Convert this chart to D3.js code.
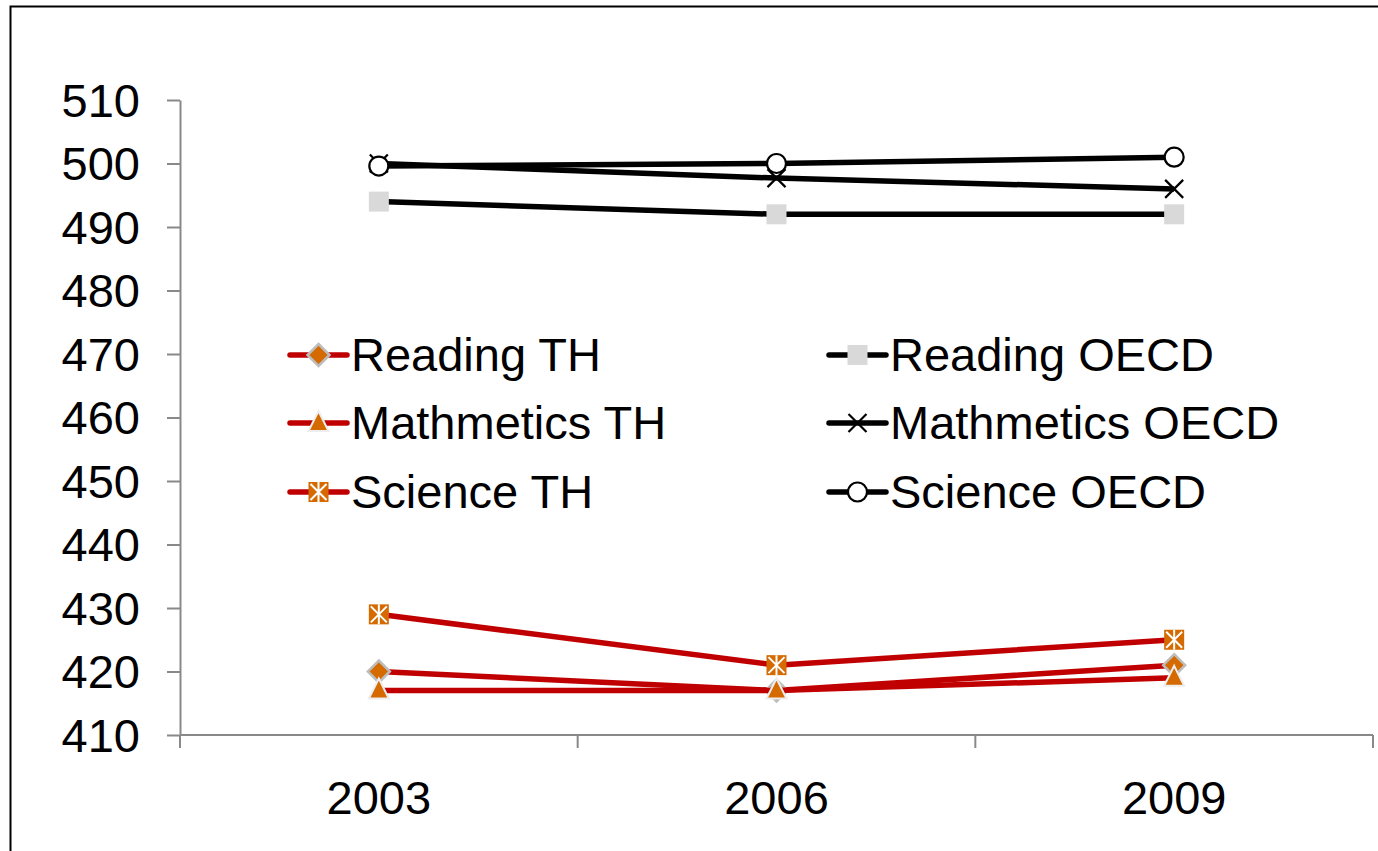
<!DOCTYPE html>
<html>
<head>
<meta charset="utf-8">
<script src="https://cdn.jsdelivr.net/npm/d3@7"></script>
<style>
  html, body { margin: 0; padding: 0; background: #fff; }
  svg { display: block; }
  text { font-family: "Liberation Sans", Arial, sans-serif; fill: #000; }
</style>
</head>
<body>
<svg id="chart" width="1378" height="851"></svg>
<script>
// PISA mean scores, Thailand vs OECD average
const years = ["2003", "2006", "2009"];
const yTicks = [410, 420, 430, 440, 450, 460, 470, 480, 490, 500, 510];

const readingTH = [420, 417, 421];
const mathTH = [417, 417, 419];
const scienceTH = [429, 421, 425];
const readingOECD = [494, 492, 492];
const mathOECD = [500, 497.7, 496];
const scienceOECD = [499.6, 500, 501];

const seriesNames = ["Reading TH", "Mathmetics TH", "Science TH",
                     "Reading OECD", "Mathmetics OECD", "Science OECD"];
const seriesValues = [readingTH, mathTH, scienceTH, readingOECD, mathOECD, scienceOECD];
const seriesMarkers = ["diamond", "triangle", "star", "square", "cross", "circle"];
const seriesColors = ["#c00000", "#c00000", "#c00000", "#000000", "#000000", "#000000"];

const series = seriesNames.map((name, i) => ({
  name, values: seriesValues[i], marker: seriesMarkers[i], color: seriesColors[i]
}));

const svg = d3.select("#chart");

// chart frame, partly outside the visible page on the right and bottom
svg.append("rect")
  .attr("x", 10.5).attr("y", 6.5).attr("width", 1400).attr("height", 900)
  .attr("fill", "none").attr("stroke", "#000").attr("stroke-width", 2);

const plot = { left: 180, right: 1373, top: 100, bottom: 735 };

const x = d3.scaleBand().domain(years).range([plot.left, plot.right]).padding(0);
const y = d3.scaleLinear().domain([410, 510]).range([plot.bottom, plot.top]);

const axisColor = "#898989";

// y axis
const yAxis = svg.append("g")
  .attr("transform", `translate(${plot.left},0)`)
  .call(d3.axisLeft(y).tickValues(yTicks).tickSize(13).tickSizeOuter(0).tickPadding(27).tickFormat(d3.format("d")));
yAxis.select(".domain").attr("stroke", axisColor).attr("stroke-width", 2);
yAxis.selectAll(".tick line").attr("stroke", axisColor).attr("stroke-width", 2);
yAxis.selectAll(".tick text")
  .attr("font-size", 47).attr("fill", "#000")
  .attr("font-family", "Liberation Sans, Arial, sans-serif")
  .attr("dy", "0.35em");

// x axis with ticks between categories
const xAxisG = svg.append("g").attr("transform", `translate(0,${plot.bottom})`);
xAxisG.append("line")
  .attr("x1", plot.left).attr("x2", plot.right)
  .attr("stroke", axisColor).attr("stroke-width", 2);
const boundaries = years.map(d => x(d)).concat([x(years[years.length - 1]) + x.bandwidth()]);
xAxisG.selectAll("line.tk").data(boundaries).join("line")
  .attr("class", "tk")
  .attr("x1", d => d).attr("x2", d => d).attr("y1", 0).attr("y2", 13)
  .attr("stroke", axisColor).attr("stroke-width", 2);
xAxisG.selectAll("text").data(years).join("text")
  .attr("x", d => x(d) + x.bandwidth() / 2)
  .attr("y", 79)
  .attr("text-anchor", "middle")
  .attr("font-size", 47)
  .text(d => d);

const cx = d => x(d) + x.bandwidth() / 2;

const orange = "#d46a00";

// marker drawing helper
function drawMarker(g, type, px, py) {
  switch (type) {
    case "diamond":
      g.append("path")
        .attr("d", `M${px},${py - 11}L${px + 11},${py}L${px},${py + 11}L${px - 11},${py}Z`)
        .attr("fill", orange).attr("stroke", "#bdbdbd").attr("stroke-width", 2.5);
      break;
    case "triangle":
      g.append("path")
        .attr("d", `M${px},${py - 12}L${px + 10},${py + 8}L${px - 10},${py + 8}Z`)
        .attr("fill", orange).attr("stroke", "#eeeeee").attr("stroke-width", 2);
      break;
    case "star":
      g.append("rect")
        .attr("x", px - 10).attr("y", py - 10).attr("width", 20).attr("height", 20)
        .attr("fill", orange);
      g.append("path")
        .attr("d", `M${px},${py - 10}V${py + 10}M${px - 8},${py - 8}L${px + 8},${py + 8}M${px + 8},${py - 8}L${px - 8},${py + 8}`)
        .attr("stroke", "#fff").attr("stroke-width", 2).attr("fill", "none");
      break;
    case "square":
      g.append("rect")
        .attr("x", px - 10).attr("y", py - 10).attr("width", 20).attr("height", 20)
        .attr("fill", "#d9d9d9");
      break;
    case "cross":
      g.append("path")
        .attr("d", `M${px - 9},${py - 9}L${px + 9},${py + 9}M${px + 9},${py - 9}L${px - 9},${py + 9}`)
        .attr("stroke", "#000").attr("stroke-width", 2.2).attr("fill", "none");
      break;
    case "circle":
      g.append("circle")
        .attr("cx", px).attr("cy", py).attr("r", 9.5)
        .attr("fill", "#fff").attr("stroke", "#000").attr("stroke-width", 2.2);
      break;
  }
}

const line = d3.line().x((d, i) => cx(years[i])).y(d => y(d));

// series lines and markers
const seriesG = svg.append("g");
series.forEach(s => {
  const g = seriesG.append("g");
  g.append("path")
    .datum(s.values)
    .attr("d", line)
    .attr("fill", "none")
    .attr("stroke", s.color)
    .attr("stroke-width", 5.5)
    .attr("stroke-linejoin", "round");
  s.values.forEach((v, i) => drawMarker(g, s.marker, cx(years[i]), y(v)));
});

// legend in two columns
const legendCols = [290, 829];
const legendRows = [355, 423, 492];
const legend = svg.append("g");
series.forEach((s, i) => {
  const col = Math.floor(i / 3), row = i % 3;
  const lx = legendCols[col], ly = legendRows[row];
  const g = legend.append("g");
  g.append("line")
    .attr("x1", lx).attr("x2", lx + 57).attr("y1", ly).attr("y2", ly)
    .attr("stroke", s.color).attr("stroke-width", 5.5).attr("stroke-linecap", "round");
  drawMarker(g, s.marker, lx + 28.5, ly);
  g.append("text")
    .attr("x", lx + 61).attr("y", ly)
    .attr("dy", "0.35em")
    .attr("font-size", 47)
    .text(s.name);
});
</script>
</body>
</html>
